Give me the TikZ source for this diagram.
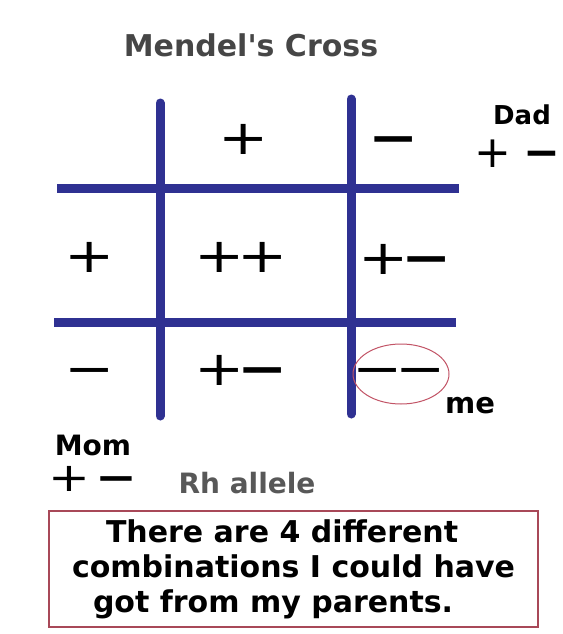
\documentclass[tikz,border=0pt]{standalone}
\usepackage{fontspec}
\setmainfont{DejaVu Sans}
\newfontfamily\signfont[FakeStretch=1.25]{DejaVu Sans}
\newfontfamily\plainsignfont{DejaVu Sans}
\definecolor{cgrid}{HTML}{2F3192}
\definecolor{cring}{HTML}{C25466}
\definecolor{cbox}{HTML}{A84858}
\definecolor{cgrey}{HTML}{464646}
\newcommand{\tight}{\kern-8pt}
\tikzset{
  every picture/.style={x=1pt, y=-1pt},
  vline/.style={draw=cgrid, line width=9pt, line cap=round},
  hline/.style={draw=cgrid, line width=9pt},
  sign/.style={font=\signfont\fontsize{48}{48}\selectfont, inner sep=0pt, text height=30pt, text depth=0pt},
  parentsign/.style={inner sep=0pt, text height=#1, text depth=0pt},
  tag/.style={font=\bfseries\fontsize{#1}{#1}\selectfont, inner sep=0pt},
  tag/.default=28,
  ring/.style={draw=cring, line width=1pt},
  summary/.style={draw=cbox, line width=1.4pt, align=left, minimum width=489pt, minimum height=116pt,
    font=\bfseries\fontsize{30}{35}\selectfont, inner sep=0pt},
}
\begin{document}
\begin{tikzpicture}
  \useasboundingbox[fill=white] (0,0) rectangle (562,634);
  \node[tag=30, text=cgrey] (title) at (251,45) {Mendel\textquotesingle s Cross};
  % punnett square
  \draw[vline] (160,103) -- (160,416);
  \draw[vline] (351,99) -- (351,414);
  \draw[hline] (57,188) -- (459,188);
  \draw[hline] (54,322) -- (456,322);
  % alleles from dad (top) and mom (left)
  \node[sign] (dadpos) at (244,139) {+};
  \node[sign, font=\signfont\bfseries\fontsize{48}{48}\selectfont] (dadneg) at (394,139) {−};
  \node[sign] (mompos) at (90,257) {+};
  \node[sign] (momneg) at (90,370) {−};
  % offspring
  \node[sign] (pp) at (241,257) {+\tight+};
  \node[sign] (pn) at (405,259) {+\tight\bfseries −};
  \node[sign] (np) at (241,370) {+\tight\bfseries −};
  \node[sign] (nn) at (399,370) {−\tight−};
  \draw[ring] (401,374) ellipse [x radius=48pt, y radius=30pt];
  \node[tag=29] (me) at (470,406) {me};
  % parents
  \node[tag=26] (dad) at (522,115) {Dad};
  \node[parentsign=27.6pt, font=\plainsignfont\fontsize{44}{44}\selectfont] (dadgeno) at (517,154) {+\kern12pt\bfseries −};
  \node[tag=28] (mom) at (93,445) {Mom};
  \node[parentsign=25pt, font=\signfont\fontsize{40}{40}\selectfont] (momgeno) at (93,479) {+\kern5pt\bfseries −};
  \node[tag=28, text=cgrey!90] (gene) at (247,483) {Rh allele};
  \node[summary] (note) at (293.5,569) {\hspace*{34pt}There are 4 different\\combinations I could have\\\hspace*{21pt}got from my parents.};
\end{tikzpicture}
\end{document}
